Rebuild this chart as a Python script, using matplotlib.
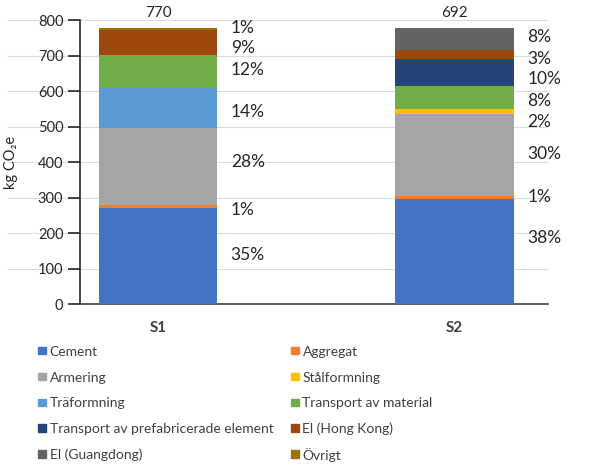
import matplotlib
matplotlib.use('Agg')
import matplotlib.pyplot as plt
import matplotlib.transforms as mtransforms
from matplotlib.patches import Rectangle

plt.rcParams['font.family'] = ['Lato', 'DejaVu Sans']

# data
categories = ['S1', 'S2']
totals = [770, 692]
series_names = ['Cement', 'Aggregat', 'Armering', 'Stålformning', 'Träformning',
                'Transport av material', 'Transport av prefabricerade element',
                'El (Hong Kong)', 'El (Guangdong)', 'Övrigt']
cement = [272, 295]
aggregat = [7, 9]
armering = [218, 231]
stalformning = [0, 15]
traformning = [111, 0]
transport_material = [93, 63]
transport_prefab = [0, 77]
el_hongkong = [71, 26]
el_guangdong = [0, 61]
ovrigt = [6, 0]
series_values = [cement, aggregat, armering, stalformning, traformning,
                 transport_material, transport_prefab, el_hongkong, el_guangdong, ovrigt]
colors = ['#4472C4', '#ED7D31', '#A5A5A5', '#FFC000', '#5B9BD5',
          '#70AD47', '#264478', '#9E480E', '#636363', '#997300']

# y-positions of the percent labels (Excel spreads them out)
label_y = [[140, 265, 400, 542, 659, 720, 777],
           [187, 303, 422, 513, 573, 633, 690, 753]]

W, H = 608, 468
fig = plt.figure(figsize=(W / 100, H / 100), dpi=100)
ax = fig.add_axes([80 / W, 1 - 304.3 / H, 468 / W, 284.3 / H])

x = list(range(len(categories)))
bottoms = [0, 0]
for name, vals, c in zip(series_names, series_values, colors):
    ax.bar(x, vals, width=0.4, bottom=bottoms, color=c, label=name, zorder=3)
    bottoms = [b + v for b, v in zip(bottoms, vals)]

# percent labels and totals
for i in x:
    bar_sum = sum(vals[i] for vals in series_values)
    pcts = [vals[i] / bar_sum * 100 for vals in series_values if vals[i] > 0]
    for p, yy in zip(pcts, label_y[i]):
        ax.text(i + 0.245, yy, f'{p:.0f}%', ha='left', va='center',
                fontsize=12.5, color='#262626')
    ax.text(i, 819, str(totals[i]), ha='center', va='center', fontsize=11,
            color='#262626', clip_on=False)

ax.set_xlim(-0.263, 1.314)
ax.set_ylim(0, 800)
ax.set_yticks(range(0, 801, 100))
ax.set_xticks(x)
ax.set_xticklabels(categories, fontweight='bold', fontsize=11, color='#404040')
ax.tick_params(axis='x', length=0, pad=12)
ax.tick_params(axis='y', length=9, width=1.2, color='#262626', labelsize=10.5,
               labelcolor='#262626', pad=3, direction='out')

# light gridlines that run out past the tick labels
trans = mtransforms.blended_transform_factory(ax.transAxes, ax.transData)
ax.hlines(range(100, 801, 100), -0.155, 1, transform=trans, color='#DCDCDC',
          lw=0.8, clip_on=False, zorder=0)

for s in ['top', 'right']:
    ax.spines[s].set_visible(False)
ax.spines['left'].set_color('#262626')
ax.spines['left'].set_linewidth(1.2)
ax.spines['bottom'].set_color('#404040')
ax.spines['bottom'].set_linewidth(1.2)

ax.set_ylabel('kg CO₂e', fontsize=10.5, color='#262626')
ax.yaxis.set_label_coords(-0.132, 0.5)

# legend, laid out row by row like Excel (two columns)
col_x = [38, 291]
row_y0, row_step, box = 350.7, 25.8, 7.5
for k, (name, c) in enumerate(zip(series_names, colors)):
    r, col = divmod(k, 2)
    cy = row_y0 + r * row_step
    fig.patches.append(Rectangle((col_x[col] / W, 1 - (cy + box / 2) / H),
                                 box / W, box / H, color=c,
                                 transform=fig.transFigure, figure=fig))
    fig.text((col_x[col] + box + 4) / W, 1 - cy / H, name, ha='left',
             va='center_baseline', fontsize=10, color='#404040')

fig.savefig('out.png', dpi=100)
